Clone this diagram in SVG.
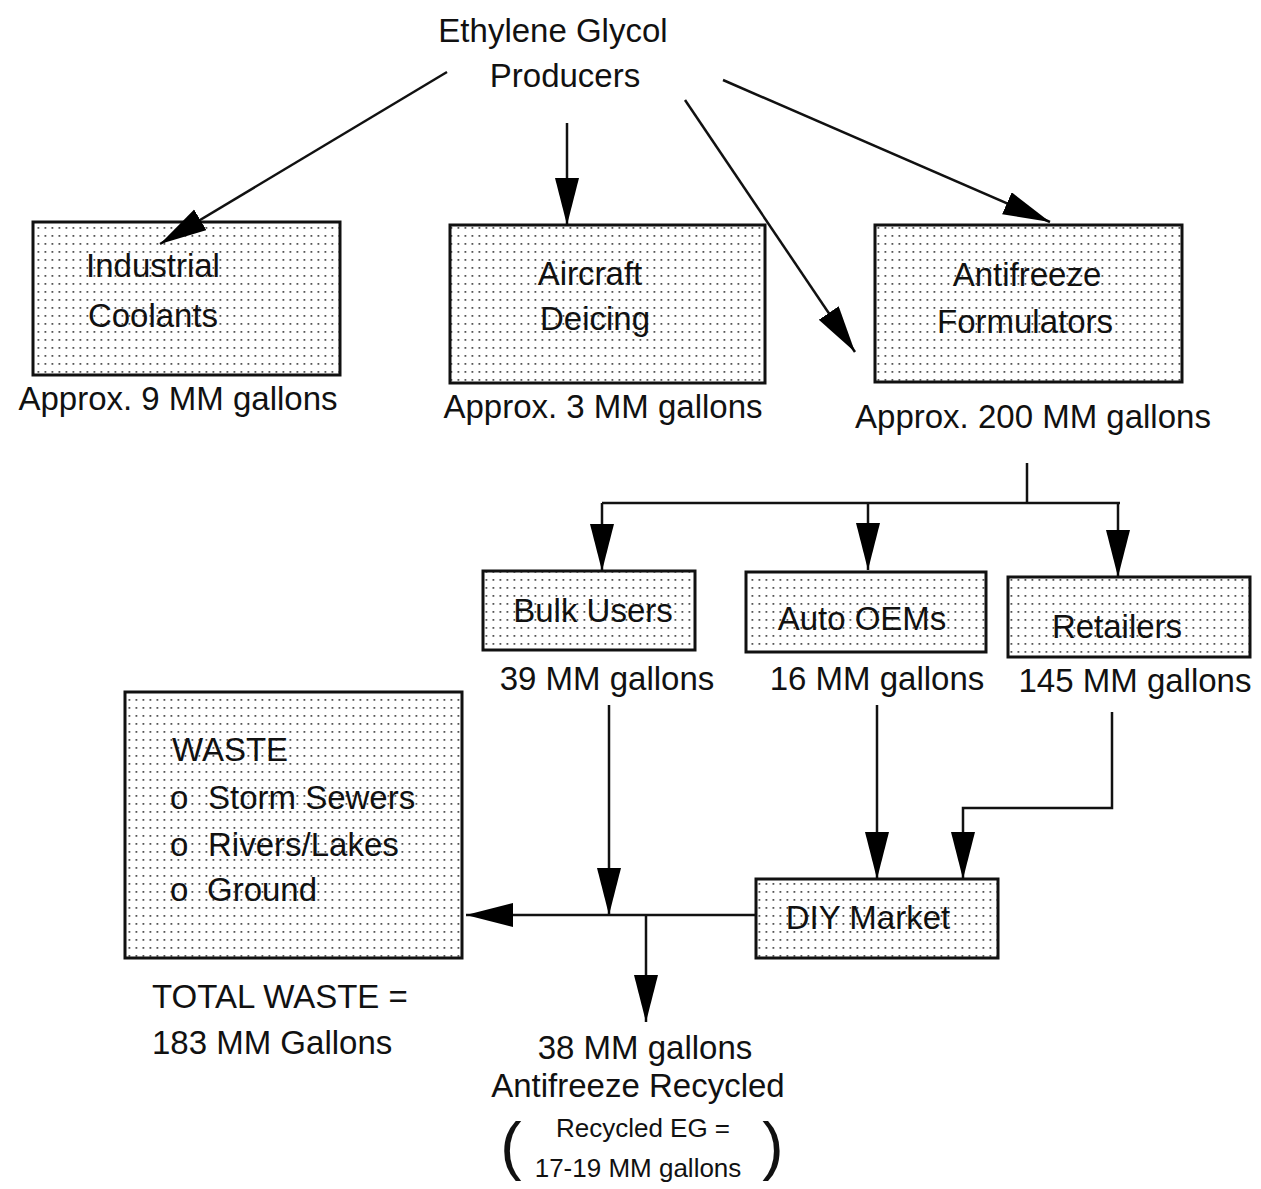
<svg xmlns="http://www.w3.org/2000/svg" width="1261" height="1189" viewBox="0 0 1261 1189">
<defs>
<pattern id="dots" patternUnits="userSpaceOnUse" width="7" height="8">
<rect x="2.5" y="3" width="1.8" height="1.8" fill="#555"/>
</pattern>
<marker id="ah" markerUnits="userSpaceOnUse" markerWidth="50" markerHeight="26" refX="47" refY="12" orient="auto">
<path d="M0,0 L47,12 L0,24 Z" fill="#000"/>
</marker>
</defs>
<style>
.box{fill:url(#dots);stroke:#111;stroke-width:3}
.bg{fill:#fff}
text{font-family:"Liberation Sans",Arial,sans-serif;font-size:33px;fill:#111}
.c{text-anchor:middle}
.s{font-size:26px}
.p{font-size:64px}
.ln{fill:none;stroke:#111;stroke-width:2.5}
</style>
<rect width="1261" height="1189" fill="#fff"/>
<g id="producers">
<text class="c" x="553" y="42">Ethylene Glycol</text>
<text class="c" x="565" y="87">Producers</text>
</g>
<g id="industrial">
<rect class="bg" x="33" y="222" width="307" height="153"/>
<rect class="box" x="33" y="222" width="307" height="153"/>
<text class="c" x="153" y="277">Industrial</text>
<text class="c" x="153" y="327">Coolants</text>
<text class="c" x="178" y="410">Approx. 9 MM gallons</text>
</g>
<g id="aircraft">
<rect class="bg" x="450" y="225" width="315" height="158"/>
<rect class="box" x="450" y="225" width="315" height="158"/>
<text class="c" x="590" y="285">Aircraft</text>
<text class="c" x="595" y="330">Deicing</text>
<text class="c" x="603" y="418">Approx. 3 MM gallons</text>
</g>
<g id="formulators">
<rect class="bg" x="875" y="225" width="307" height="157"/>
<rect class="box" x="875" y="225" width="307" height="157"/>
<text class="c" x="1027" y="286">Antifreeze</text>
<text class="c" x="1025" y="333">Formulators</text>
<text class="c" x="1033" y="428">Approx. 200 MM gallons</text>
</g>
<g id="bulk">
<rect class="bg" x="483" y="571" width="212" height="79"/>
<rect class="box" x="483" y="571" width="212" height="79"/>
<text class="c" x="593" y="622">Bulk Users</text>
<text class="c" x="607" y="690">39 MM gallons</text>
</g>
<g id="oems">
<rect class="bg" x="746" y="572" width="240" height="80"/>
<rect class="box" x="746" y="572" width="240" height="80"/>
<text class="c" x="862" y="630">Auto OEMs</text>
<text class="c" x="877" y="690">16 MM gallons</text>
</g>
<g id="retailers">
<rect class="bg" x="1008" y="577" width="242" height="80"/>
<rect class="box" x="1008" y="577" width="242" height="80"/>
<text class="c" x="1117" y="638">Retailers</text>
<text class="c" x="1135" y="692">145 MM gallons</text>
</g>
<g id="diy">
<rect class="bg" x="756" y="879" width="242" height="79"/>
<rect class="box" x="756" y="879" width="242" height="79"/>
<text class="c" x="868" y="929">DIY Market</text>
</g>
<g id="waste">
<rect class="bg" x="125" y="692" width="337" height="266"/>
<rect class="box" x="125" y="692" width="337" height="266"/>
<text x="172" y="761">WASTE</text>
<text y="809"><tspan x="170">o</tspan><tspan x="208">Storm Sewers</tspan></text>
<text y="856"><tspan x="170">o</tspan><tspan x="208">Rivers/Lakes</tspan></text>
<text y="901"><tspan x="170">o</tspan><tspan x="207">Ground</tspan></text>
<text x="152" y="1008">TOTAL WASTE =</text>
<text x="152" y="1054">183 MM Gallons</text>
</g>
<g id="recycled">
<text class="c" x="645" y="1059">38 MM gallons</text>
<text class="c" x="638" y="1097">Antifreeze Recycled</text>
<text class="c s" x="643" y="1137">Recycled EG =</text>
<text class="c s" x="638" y="1177">17-19 MM gallons</text>
<text class="c p" x="511" y="1168">(</text>
<text class="c p" x="773" y="1168">)</text>
</g>
<g id="connectors">
<line class="ln" x1="447" y1="72" x2="160" y2="244" marker-end="url(#ah)"/>
<line class="ln" x1="567" y1="123" x2="567" y2="225" marker-end="url(#ah)"/>
<line class="ln" x1="685" y1="100" x2="855" y2="352" marker-end="url(#ah)"/>
<line class="ln" x1="723" y1="80" x2="1050" y2="222" marker-end="url(#ah)"/>
<path class="ln" d="M1027,463 V503 M602,503 H1120"/>
<line class="ln" x1="602" y1="503" x2="602" y2="571" marker-end="url(#ah)"/>
<line class="ln" x1="868" y1="503" x2="868" y2="570" marker-end="url(#ah)"/>
<line class="ln" x1="1118" y1="503" x2="1118" y2="577" marker-end="url(#ah)"/>
<line class="ln" x1="609" y1="705" x2="609" y2="915" marker-end="url(#ah)"/>
<line class="ln" x1="756" y1="915" x2="466" y2="915" marker-end="url(#ah)"/>
<line class="ln" x1="877" y1="705" x2="877" y2="879" marker-end="url(#ah)"/>
<path class="ln" d="M1112,712 V808 H963 V879" marker-end="url(#ah)"/>
<line class="ln" x1="646" y1="916" x2="646" y2="1022" marker-end="url(#ah)"/>
</g>
</svg>
